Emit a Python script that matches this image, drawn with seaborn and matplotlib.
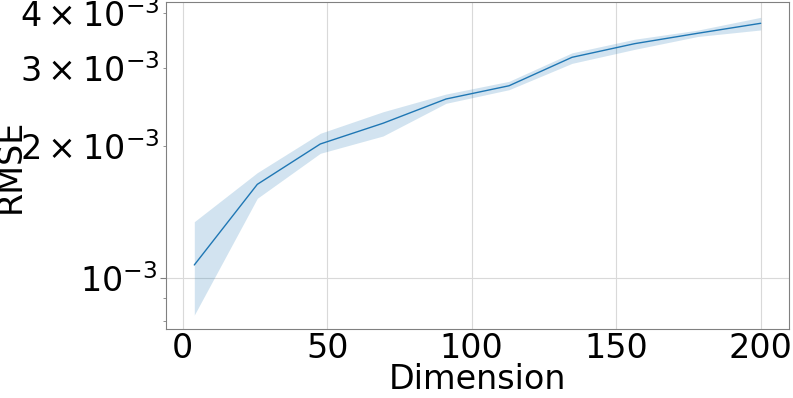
import numpy as np
import pandas as pd
import matplotlib
matplotlib.use("Agg")
import matplotlib.pyplot as plt
import seaborn as sns

# values (log y axis)
dimension = [4, 25.8, 47.6, 69.3, 91.1, 112.9, 134.7, 156.4, 178.2, 200]
rmse = [1.072e-3, 1.634e-3, 2.018e-3, 2.249e-3, 2.553e-3, 2.736e-3, 3.175e-3, 3.41e-3, 3.60e-3, 3.793e-3]
rmse_low = [0.825e-3, 1.519e-3, 1.922e-3, 2.104e-3, 2.496e-3, 2.68e-3, 3.076e-3, 3.31e-3, 3.54e-3, 3.663e-3]
rmse_high = [1.344e-3, 1.737e-3, 2.134e-3, 2.388e-3, 2.62e-3, 2.80e-3, 3.25e-3, 3.49e-3, 3.66e-3, 3.913e-3]

data = pd.DataFrame({'Dimension': dimension, 'RMSE': rmse})

sns.set_style('whitegrid', {'axes.edgecolor': '0.5', 'grid.color': '0.85',
                            'ytick.left': True, 'ytick.color': '0.5',
                            'text.color': 'black', 'axes.labelcolor': 'black'})
plt.rcParams['font.family'] = ['DejaVu Sans']
fs = 24

fig, ax = plt.subplots(figsize=(7.93, 3.98), dpi=100)
fig.subplots_adjust(left=0.2093, right=0.995, top=0.995, bottom=0.1734)

color = '#1f77b4'
sns.lineplot(x='Dimension', y='RMSE', data=data, errorbar=None, color=color, lw=1, ax=ax)
ax.fill_between(dimension, rmse_low, rmse_high, color=color, alpha=0.2, lw=0)

ax.set_yscale('log')
ax.set_ylim(0.767e-3, 4.24e-3)
ax.set_xlabel('Dimension', fontsize=fs)
ax.set_ylabel('RMSE', fontsize=fs)
ax.xaxis.set_label_coords(0.5, -0.104)
ax.yaxis.set_label_coords(-0.2235, 0.5)
ax.tick_params(axis='both', which='both', labelsize=fs, labelcolor='black', pad=2)
ax.tick_params(axis='x', which='both', length=0, pad=2)
ax.tick_params(axis='y', which='both', left=True, color='0.5')
ax.tick_params(axis='y', which='major', length=4)
ax.tick_params(axis='y', which='minor', length=2.5)
ax.grid(True, which='major', lw=0.8)

plt.savefig('out.png', dpi=100)
